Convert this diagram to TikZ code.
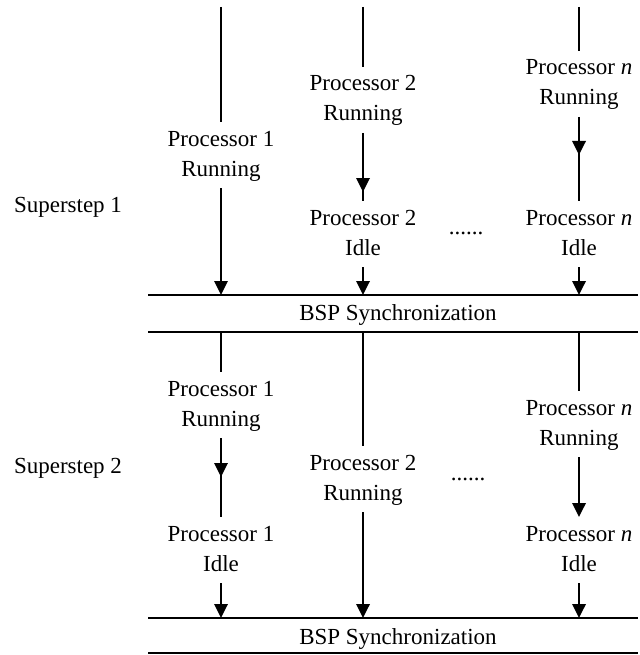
\documentclass[tikz,border=0pt]{standalone}
\usepackage{fontspec}
\setmainfont{Liberation Serif}
\usetikzlibrary{arrows.meta,decorations.markings}
\newcommand\twol[2]{\strut #1\\\strut #2}
\begin{document}
\begin{tikzpicture}[x=1pt,y=-1pt,
  lbl/.style={align=center,inner sep=0pt,outer sep=3pt,font=\fontsize{23}{30}\selectfont},
  txt/.style={inner sep=0pt,font=\fontsize{23}{30}\selectfont},
  ln/.style={line width=1.8pt},
  arr/.style={ln,-{Triangle[length=14pt,width=13.5pt]}},
  midarr/.style={ln,postaction={decorate},decoration={markings,mark=at position #1 with {\arrow{Triangle[length=14pt,width=13.5pt]}}}}
]
\useasboundingbox[fill=white] (0,0) rectangle (639,655);

% horizontal sync lines
\coordinate (s1a) at (148,295); \coordinate (s1b) at (638,295);
\coordinate (s2a) at (148,332); \coordinate (s2b) at (638,332);
\coordinate (s3a) at (148,618); \coordinate (s3b) at (638,618);
\coordinate (s4a) at (148,653); \coordinate (s4b) at (638,653);
\draw[ln] (s1a) -- (s1b);
\draw[ln] (s2a) -- (s2b);
\draw[ln] (s3a) -- (s3b);
\draw[ln] (s4a) -- (s4b);
\node[txt] (sync1) at (398,315) {BSP Synchronization};
\node[txt] (sync2) at (398,639) {BSP Synchronization};

% superstep labels
\node[txt] (ss1) at (68,207) {Superstep 1};
\node[txt] (ss2) at (68,468) {Superstep 2};

% top coordinates
\coordinate (t1) at (221,7);
\coordinate (t2) at (363,7);
\coordinate (tn) at (579,7);

% superstep 1 nodes
\node[lbl] (p1r) at (221,155) {\twol{Processor 1}{Running}};
\node[lbl] (p2r) at (363,100) {\twol{Processor 2}{Running}};
\node[lbl] (pnr) at (579,84) {\twol{Processor \emph{n}}{Running}};
\node[lbl] (p2i) at (363,234) {\twol{Processor 2}{Idle}};
\node[lbl] (pni) at (579,234) {\twol{Processor \emph{n}}{Idle}};
\node[txt] (dots1) at (466,233) {......};

\draw[ln] (t1) -- (p1r.north);
\draw[ln] (t2) -- (p2r.north);
\draw[ln] (tn) -- (pnr.north);
\draw[arr] (p1r.south) -- (p1r.south |- s1a);
\draw[midarr=-9pt] (p2r.south) -- (p2i.north);
\draw[midarr=-46pt] (pnr.south) -- (pni.north);
\draw[arr] (p2i.south) -- (p2i.south |- s1a);
\draw[arr] (pni.south) -- (pni.south |- s1a);

% superstep 2 nodes
\node[lbl] (q1r) at (221,405) {\twol{Processor 1}{Running}};
\node[lbl] (q2r) at (363,479) {\twol{Processor 2}{Running}};
\node[lbl] (qnr) at (579,424) {\twol{Processor \emph{n}}{Running}};
\node[lbl] (q1i) at (221,550) {\twol{Processor 1}{Idle}};
\node[lbl] (qni) at (579,550) {\twol{Processor \emph{n}}{Idle}};
\node[txt] (dots2) at (468,479) {......};

\draw[ln] (q1r.north |- s2a) -- (q1r.north);
\draw[ln] (q2r.north |- s2a) -- (q2r.north);
\draw[ln] (qnr.north |- s2a) -- (qnr.north);
\draw[midarr=-40pt] (q1r.south) -- (q1i.north);
\draw[arr] (qnr.south) -- (qni.north);
\draw[arr] (q1i.south) -- (q1i.south |- s3a);
\draw[arr] (q2r.south) -- (q2r.south |- s3a);
\draw[arr] (qni.south) -- (qni.south |- s3a);
\end{tikzpicture}
\end{document}
